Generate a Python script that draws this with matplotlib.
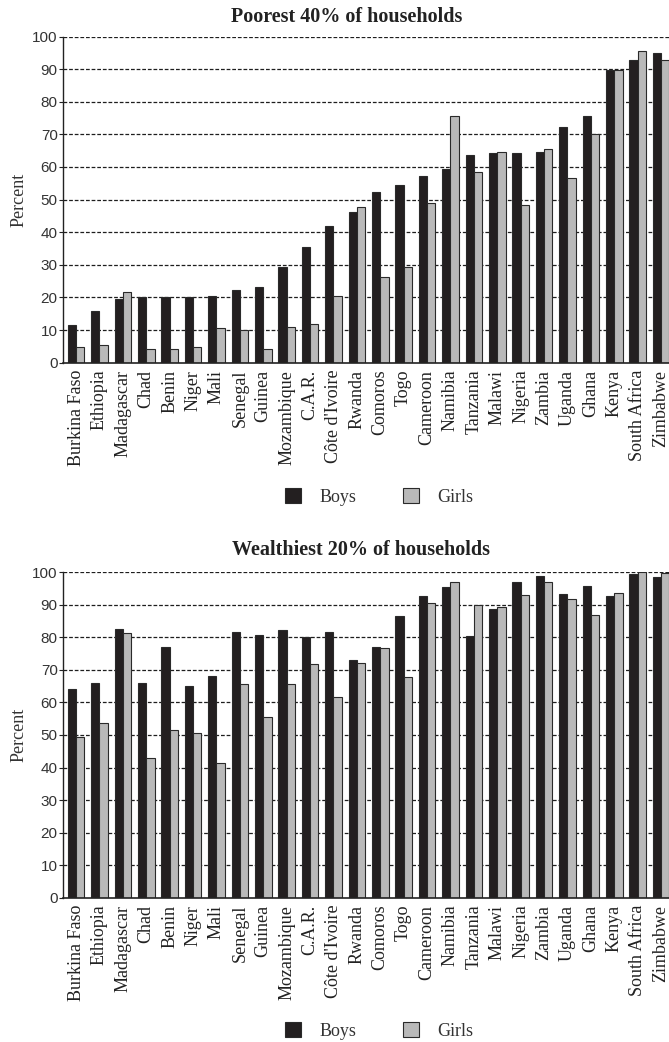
import matplotlib.pyplot as plt
from matplotlib.patches import Patch
from matplotlib.transforms import ScaledTranslation
import numpy as np

# Countries (same order in both panels)
countries = ['Burkina Faso', 'Ethiopia', 'Madagascar', 'Chad', 'Benin', 'Niger',
             'Mali', 'Senegal', 'Guinea', 'Mozambique', 'C.A.R.', "Côte d'Ivoire",
             'Rwanda', 'Comoros', 'Togo', 'Cameroon', 'Namibia', 'Tanzania',
             'Malawi', 'Nigeria', 'Zambia', 'Uganda', 'Ghana', 'Kenya',
             'South Africa', 'Zimbabwe']

# Poorest 40% of households (percent)
poor_boys = [11.5, 15.8, 19.5, 20.2, 20.2, 20.2, 20.6, 22.4, 23.2, 29.4, 35.4, 41.9,
             46.3, 52.3, 54.6, 57.2, 59.5, 63.8, 64.2, 64.2, 64.7, 72.4, 75.5, 89.7,
             92.9, 94.8]
poor_girls = [4.9, 5.3, 21.8, 4.1, 4.1, 4.9, 10.5, 10.0, 4.1, 10.9, 11.9, 20.6,
              47.6, 26.2, 29.3, 48.9, 75.5, 58.4, 64.6, 48.4, 65.4, 56.6, 70.2, 89.7,
              95.5, 92.9]

# Wealthiest 20% of households (percent)
rich_boys = [64.2, 66.0, 82.7, 66.0, 77.1, 65.2, 68.2, 81.5, 80.6, 82.4, 80.1, 81.5,
             73.1, 77.0, 86.7, 92.8, 95.4, 80.4, 88.8, 97.1, 98.9, 93.2, 95.9, 92.8,
             99.4, 98.5]
rich_girls = [49.4, 53.8, 81.4, 42.8, 51.6, 50.6, 41.5, 65.6, 55.4, 65.6, 71.7, 61.6,
              72.2, 76.6, 67.7, 90.6, 97.1, 90.1, 89.2, 93.1, 97.1, 91.8, 87.0, 93.6,
              100.0, 99.7]

titles = ['Poorest 40% of households', 'Wealthiest 20% of households']
yticks = list(range(0, 101, 10))

BLACK = '#231f20'
GREY = '#b9b9b9'
EDGE = '#2a2a2a'

W, H = 669, 1042
fig = plt.figure(figsize=(W / 100, H / 100), dpi=100)

x = np.arange(len(countries))
bw = 0.355

panels = [(poor_boys, poor_girls, 36.5, 362.7, 22, 347, 497),
          (rich_boys, rich_girls, 572.3, 897.7, 555, 361, 1031)]

shift = ScaledTranslation(2.5 / 100, 0, fig.dpi_scale_trans)

for (boys, girls, ytop, ybot, tbase, tcx, legy), title in zip(panels, titles):
    ax = fig.add_axes([63.3 / W, 1 - ybot / H, 1 - 63.3 / W, (ybot - ytop) / H])
    ax.set_axisbelow(True)
    ax.bar(x - bw / 2, boys, bw, color=BLACK, edgecolor=EDGE, linewidth=0.8, zorder=2)
    ax.bar(x + bw / 2, girls, bw, color=GREY, edgecolor=EDGE, linewidth=0.8, zorder=2)

    ax.set_xlim(-0.543, 25.34)
    ax.set_ylim(0, 100)
    ax.set_yticks(yticks)
    ax.set_yticklabels([str(v) for v in yticks], family='Liberation Sans',
                       fontsize=11, color='#333333')
    ax.set_xticks(x)
    ax.set_xticklabels(countries, rotation=90, family='Liberation Serif',
                       fontsize=13, color='#222222')
    for lab in ax.get_xticklabels():
        lab.set_transform(lab.get_transform() + shift)
    ax.tick_params(axis='x', length=0, pad=5)
    ax.tick_params(axis='y', length=3, width=0.8, pad=1, color='#222222')

    for v in yticks[1:]:
        ax.axhline(v, color='#1e1e1e', lw=0.9, ls=(0, (3, 1.5)), zorder=1)

    for s in ['top', 'right']:
        ax.spines[s].set_visible(False)
    ax.spines['left'].set_linewidth(1.0)
    ax.spines['left'].set_color('#222222')
    ax.spines['bottom'].set_linewidth(1.2)
    ax.spines['bottom'].set_color('#222222')

    fig.text(19 / W, 1 - (ytop + ybot) / 2 / H, 'Percent', rotation=90,
             ha='center', va='center', family='Liberation Serif', fontsize=13,
             color='#333333')
    fig.text(tcx / W, 1 - tbase / H, title, ha='center', va='baseline',
             family='Liberation Serif', fontweight='bold', fontsize=14.5,
             color='#222222')

    handles = [Patch(facecolor=BLACK, edgecolor=EDGE, linewidth=0.8),
               Patch(facecolor=GREY, edgecolor=EDGE, linewidth=0.8)]
    fig.legend(handles, ['Boys', 'Girls'], loc='center', ncol=2, frameon=False,
               bbox_to_anchor=(379.5 / W, 1 - legy / H),
               prop={'family': 'Liberation Serif', 'size': 13},
               handlelength=0.85, handleheight=0.85, handletextpad=1.05,
               columnspacing=2.6, borderpad=0, labelcolor='#333333')

fig.savefig('out.png', dpi=100)
